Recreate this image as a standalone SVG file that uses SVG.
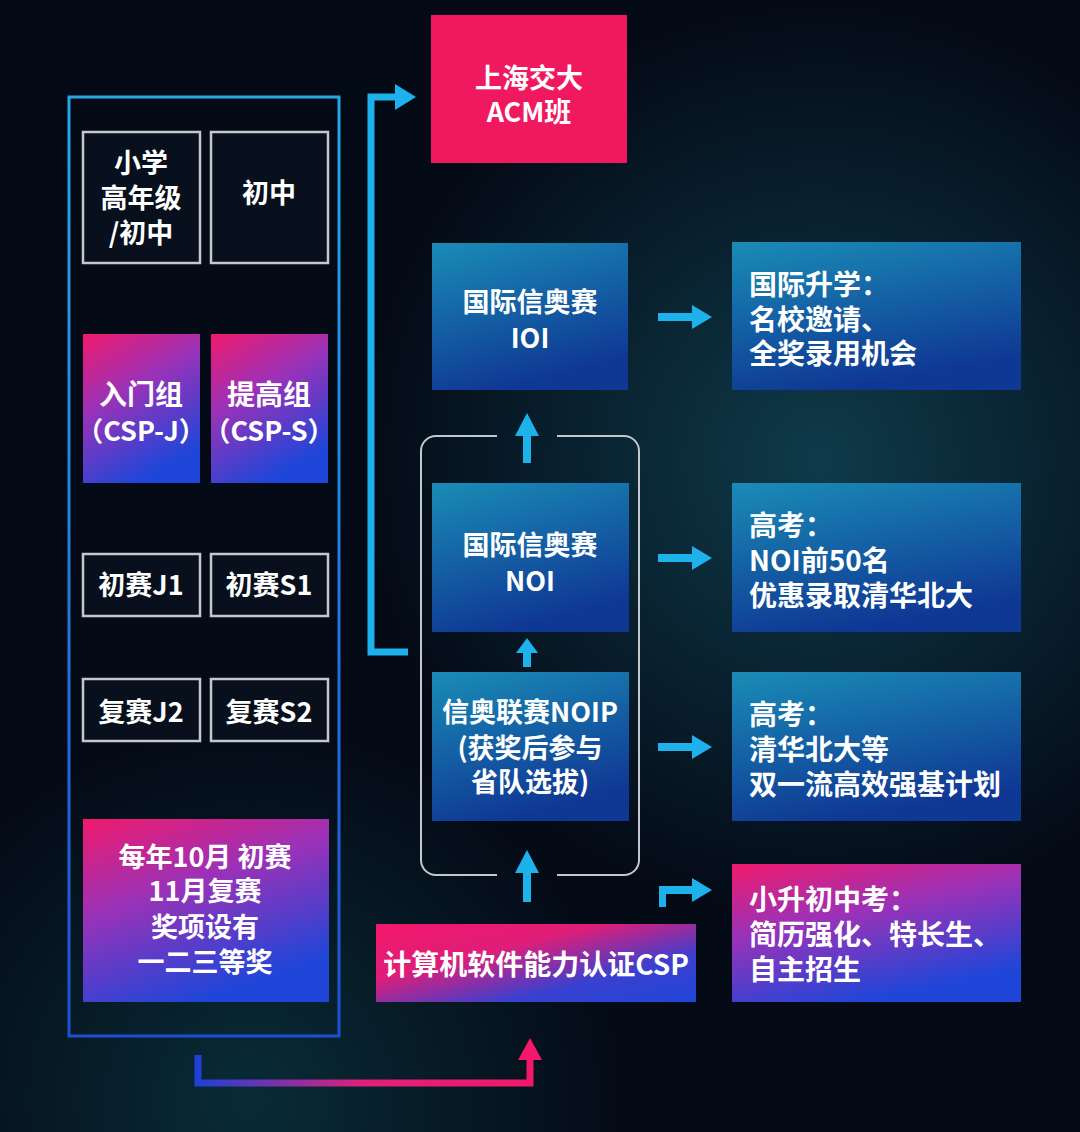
<svg xmlns="http://www.w3.org/2000/svg" width="1080" height="1132" viewBox="0 0 1080 1132">
<defs>
<style>
.t{font-family:"Noto Sans CJK SC","Noto Sans",sans-serif;font-weight:700;fill:#ffffff;font-size:27px;dominant-baseline:central}
.c{text-anchor:middle}
.r{font-size:28px}
.cell{fill:#07101c;stroke:#c3c8cd;stroke-width:2.5}
.blue{fill:url(#gBlue)}
.pink{fill:url(#gPink)}
.arr{fill:#1db2ec}
</style>
<radialGradient id="bgGlow" cx="820" cy="460" r="460" gradientUnits="userSpaceOnUse">
<stop offset="0" stop-color="#104050" stop-opacity="0.9"/>
<stop offset="1" stop-color="#104050" stop-opacity="0"/>
</radialGradient>
<radialGradient id="bgGlow2" cx="250" cy="1100" r="380" gradientUnits="userSpaceOnUse">
<stop offset="0" stop-color="#0b3a44" stop-opacity="0.7"/>
<stop offset="1" stop-color="#0b3a44" stop-opacity="0"/>
</radialGradient>
<linearGradient id="gBlue" x1="0" y1="0" x2="0.35" y2="1">
<stop offset="0" stop-color="#1a8cb6"/>
<stop offset="1" stop-color="#0f3894"/>
</linearGradient>
<linearGradient id="gPink" x1="0" y1="0" x2="0.45" y2="1">
<stop offset="0" stop-color="#f01a6c"/>
<stop offset="0.45" stop-color="#9a32b8"/>
<stop offset="1" stop-color="#1f46d8"/>
</linearGradient>
<linearGradient id="gPinkH" x1="0" y1="0" x2="1" y2="1">
<stop offset="0" stop-color="#f2186a"/>
<stop offset="0.35" stop-color="#e01d78"/>
<stop offset="0.7" stop-color="#3a40d0"/>
<stop offset="1" stop-color="#1f46d8"/>
</linearGradient>
<linearGradient id="gFrame" x1="0" y1="97" x2="0" y2="1036" gradientUnits="userSpaceOnUse">
<stop offset="0" stop-color="#2aa6e4"/>
<stop offset="1" stop-color="#1d4fd6"/>
</linearGradient>
<linearGradient id="gBottom" x1="198" y1="0" x2="530" y2="0" gradientUnits="userSpaceOnUse">
<stop offset="0" stop-color="#2040d8"/>
<stop offset="0.5" stop-color="#e0207a"/>
<stop offset="1" stop-color="#f2186a"/>
</linearGradient>
</defs>

<rect width="1080" height="1132" fill="#040a16"/>
<rect width="1080" height="1132" fill="url(#bgGlow)"/>
<rect width="1080" height="1132" fill="url(#bgGlow2)"/>

<g id="frame-left">
<rect x="69" y="97" width="270" height="939" fill="none" stroke="url(#gFrame)" stroke-width="3"/>
</g>

<g id="node-grade1">
<rect class="cell" x="83" y="132" width="117" height="131"/>
<text class="t c" x="141" y="161">小学</text>
<text class="t c" x="141" y="196">高年级</text>
<text class="t c" x="141" y="231">/初中</text>
</g>
<g id="node-grade2">
<rect class="cell" x="211" y="132" width="117" height="131"/>
<text class="t c" x="269" y="191">初中</text>
</g>
<g id="node-cspj">
<rect class="pink" x="83" y="334" width="117" height="149"/>
<text class="t c" x="141" y="393" style="font-size:28px">入门组</text>
<text class="t c" x="141" y="429">（CSP-J）</text>
</g>
<g id="node-csps">
<rect class="pink" x="211" y="334" width="117" height="149"/>
<text class="t c" x="269" y="393" style="font-size:28px">提高组</text>
<text class="t c" x="269" y="429">（CSP-S）</text>
</g>
<g id="node-j1">
<rect class="cell" x="83" y="554" width="117" height="62"/>
<text class="t c" x="141" y="583">初赛J1</text>
</g>
<g id="node-s1">
<rect class="cell" x="211" y="554" width="117" height="62"/>
<text class="t c" x="269" y="583">初赛S1</text>
</g>
<g id="node-j2">
<rect class="cell" x="83" y="679" width="117" height="62"/>
<text class="t c" x="141" y="710">复赛J2</text>
</g>
<g id="node-s2">
<rect class="cell" x="211" y="679" width="117" height="62"/>
<text class="t c" x="269" y="710">复赛S2</text>
</g>
<g id="node-schedule">
<rect class="pink" x="83" y="819" width="246" height="183"/>
<text class="t c" x="205" y="855">每年10月 初赛</text>
<text class="t c" x="205" y="889">11月复赛</text>
<text class="t c" x="205" y="925">奖项设有</text>
<text class="t c" x="205" y="960">一二三等奖</text>
</g>

<g id="node-acm">
<rect x="431" y="15" width="196" height="148" fill="#f0195f"/>
<text class="t c" x="529" y="76">上海交大</text>
<text class="t c" x="529" y="110">ACM班</text>
</g>
<g id="node-ioi">
<rect class="blue" x="432" y="243" width="196" height="147"/>
<text class="t c" x="530" y="300">国际信奥赛</text>
<text class="t c" x="530" y="336">IOI</text>
</g>
<g id="frame-mid">
<path d="M557,436 H624 A15,15 0 0 1 639,451 V860 A15,15 0 0 1 624,875 H557 M497,875 H436 A15,15 0 0 1 421,860 V451 A15,15 0 0 1 436,436 H497" fill="none" stroke="#c3c8cd" stroke-width="2"/>
</g>
<g id="node-noi">
<rect class="blue" x="432" y="483" width="197" height="149"/>
<text class="t c" x="530" y="543">国际信奥赛</text>
<text class="t c" x="530" y="579">NOI</text>
</g>
<g id="node-noip">
<rect class="blue" x="432" y="672" width="197" height="149"/>
<text class="t c" x="530" y="710">信奥联赛NOIP</text>
<text class="t c" x="530" y="746">(获奖后参与</text>
<text class="t c" x="530" y="780">省队选拔)</text>
</g>
<g id="node-csp">
<rect fill="url(#gPinkH)" x="376" y="924" width="320" height="78"/>
<text class="t c" x="536" y="963" style="font-size:28px">计算机软件能力认证CSP</text>
</g>

<g id="node-intl">
<rect class="blue" x="732" y="242" width="289" height="148"/>
<text class="t r" x="749" y="283">国际升学：</text>
<text class="t r" x="749" y="318">名校邀请、</text>
<text class="t r" x="749" y="352">全奖录用机会</text>
</g>
<g id="node-gk1">
<rect class="blue" x="732" y="483" width="289" height="149"/>
<text class="t r" x="749" y="524">高考：</text>
<text class="t r" x="749" y="559">NOI前50名</text>
<text class="t r" x="749" y="594">优惠录取清华北大</text>
</g>
<g id="node-gk2">
<rect class="blue" x="732" y="672" width="289" height="149"/>
<text class="t r" x="749" y="713">高考：</text>
<text class="t r" x="749" y="748">清华北大等</text>
<text class="t r" x="749" y="783">双一流高效强基计划</text>
</g>
<g id="node-xsc">
<rect class="pink" x="732" y="864" width="289" height="138"/>
<text class="t r" x="749" y="898">小升初中考：</text>
<text class="t r" x="749" y="933">简历强化、特长生、</text>
<text class="t r" x="749" y="968">自主招生</text>
</g>

<g id="connectors">
<path d="M408,652 H371 V97 H398" fill="none" stroke="#1db2ec" stroke-width="7"/>
<polygon class="arr" points="395,84 416,97 395,110"/>
<polygon class="arr" points="527,413 539,436 531,436 531,463 523,463 523,436 515,436"/>
<polygon class="arr" points="527,638 538,653 531,653 531,667 523,667 523,653 516,653"/>
<polygon class="arr" points="527,850 539,873 531,873 531,902 523,902 523,873 515,873"/>
<polygon class="arr" points="658,313 692,313 692,305 712,317 692,329 692,321 658,321"/>
<polygon class="arr" points="658,554 692,554 692,546 712,558 692,570 692,562 658,562"/>
<polygon class="arr" points="658,743 692,743 692,735 712,747 692,759 692,751 658,751"/>
<polygon class="arr" points="659,907 659,886 692,886 692,878 712,890 692,902 692,894 666,894 666,907"/>
<path d="M198,1055 V1083 H530 V1058" fill="none" stroke="url(#gBottom)" stroke-width="7"/>
<polygon points="530,1038 542,1060 518,1060" fill="#f2186a"/>
</g>
</svg>
